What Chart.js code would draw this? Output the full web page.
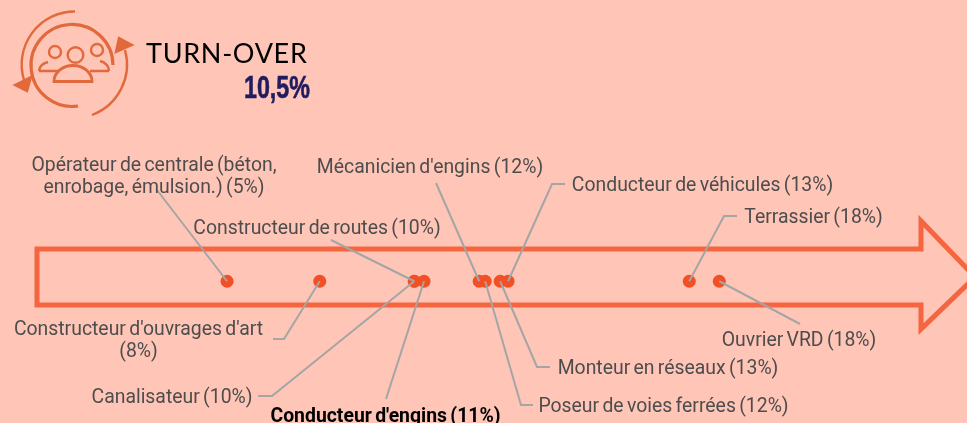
<!DOCTYPE html>
<html lang="fr">
<head>
<meta charset="utf-8">
<title>Turn-over</title>
<script src="https://cdn.jsdelivr.net/npm/chart.js@4/dist/chart.umd.min.js"></script>
<style>
    html, body { margin: 0; padding: 0; background: #ffc5b7; overflow: hidden; }
    #wrap { position: relative; width: 967px; height: 423px; }
    canvas { display: block; }
    #icon { position: absolute; left: 0; top: 0; }
    #heading { position: absolute; left: 146px; top: 35px; font: 400 27px Lato, sans-serif; color: #000; letter-spacing: .7px; line-height: 36px; }
    #rate { position: absolute; left: 244px; top: 69px; font: 700 31px "Liberation Sans Narrow", sans-serif; color: #201c60; line-height: 38px; -webkit-text-stroke: .6px #201c60; transform: scaleX(.75); transform-origin: left; }
</style>
</head>
<body>
<div id="wrap">
    <canvas id="turnoverChart" width="967" height="423"></canvas>
    <svg id="icon" width="140" height="125" fill="none" stroke="#e2693c" stroke-width="2.4">
        <path d="M75 11.5 A53 53 0 0 0 24 80"/>
        <path d="M15 85 L31 77 L27 91 Z" fill="#e2693c"/>
        <path d="M113 65 A41 41 0 1 0 78 106" stroke-width="3.2"/>
        <path d="M92 115 A54 54 0 0 0 125 50"/>
        <path d="M132 45 L119 38 L116 52 Z" fill="#e2693c"/>
        <circle cx="75.5" cy="55" r="7.8"/>
        <circle cx="55" cy="52" r="6"/>
        <circle cx="97" cy="50" r="6"/>
        <path d="M54 81.5 H92 A19 16 0 0 0 54 81.5 Z" stroke-width="2.8"/>
        <path d="M39 71 H60 M48 62 A13 10 0 0 0 39 71"/>
        <path d="M109 71 H90 M100 61 A13 10 0 0 1 109 71"/>
    </svg>
    <div id="heading">TURN-OVER</div>
    <div id="rate">10,5%</div>
</div>
<script>
// Chart data
const jobs = [
    'Opérateur de centrale', 'Constructeur d\'ouvrages d\'art', 'Constructeur de routes',
    'Canalisateur', 'Conducteur d\'engins', 'Mécanicien d\'engins', 'Poseur de voies ferrées',
    'Monteur en réseaux', 'Conducteur de véhicules', 'Terrassier', 'Ouvrier VRD'
];
const turnover = [5.3, 7.77, 10.29, 10.29, 10.55, 12.02, 12.18, 12.58, 12.79, 17.62, 18.42];
const labelLines = [
    ['Opérateur de centrale (béton,', 'enrobage, émulsion.) (5%)'],
    ['Constructeur d\'ouvrages d\'art', '(8%)'],
    ['Constructeur de routes (10%)'],
    ['Canalisateur (10%)'],
    ['Conducteur d\'engins (11%)'],
    ['Mécanicien d\'engins (12%)'],
    ['Poseur de voies ferrées (12%)'],
    ['Monteur en réseaux (13%)'],
    ['Conducteur de véhicules (13%)'],
    ['Terrassier (18%)'],
    ['Ouvrier VRD (18%)']
];

// Where each callout sits: label anchor and the leader's way back to the point
const callouts = [
    { x: 154, y: 166, leader: [[157, 190]] },
    { x: 138.5, y: 330, leader: [[273, 339], [284, 339]] },
    { x: 317, y: 229, leader: [[331, 240]] },
    { x: 172, y: 398, leader: [[258, 396], [272, 396]] },
    { x: 385.5, y: 417, bold: true, leader: [[386, 399]] },
    { x: 430, y: 168, leader: [[436, 183]] },
    { x: 663.5, y: 407, leader: [[533, 405], [521, 405]] },
    { x: 668, y: 369, leader: [[550, 367], [537, 367]] },
    { x: 702.5, y: 186, leader: [[565, 184], [552, 184]] },
    { x: 813.5, y: 218, leader: [[737, 216], [724, 216]] },
    { x: 799, y: 341, leader: [[800, 324]] }
];

const arrowColor = '#f5653f';
const arrowOutline = [[37, 249], [921, 249], [921, 221], [975, 277], [921, 329], [921, 305], [37, 305]];

// Big arrow behind the points
const arrowPlugin = {
    id: 'arrow',
    beforeDatasetsDraw(chart) {
        const ctx = chart.ctx;
        ctx.save();
        ctx.strokeStyle = arrowColor;
        ctx.lineWidth = 5;
        ctx.lineJoin = 'miter';
        ctx.beginPath();
        arrowOutline.forEach(([x, y], i) => i ? ctx.lineTo(x, y) : ctx.moveTo(x, y));
        ctx.closePath();
        ctx.stroke();
        ctx.restore();
    }
};

// Leader lines and labels for every point
const calloutPlugin = {
    id: 'callouts',
    afterDatasetsDraw(chart) {
        const ctx = chart.ctx;
        const points = chart.getDatasetMeta(0).data;
        ctx.save();
        callouts.forEach((item, i) => {
            ctx.strokeStyle = '#a5a5a5';
            ctx.lineWidth = 2;
            ctx.beginPath();
            item.leader.forEach(([x, y], j) => j ? ctx.lineTo(x, y) : ctx.moveTo(x, y));
            ctx.lineTo(points[i].x, points[i].y);
            ctx.stroke();

            ctx.font = (item.bold ? '700 ' : '400 ') + '19.4px Roboto, sans-serif';
            ctx.wordSpacing = '-1.5px';
            ctx.fillStyle = item.bold ? '#000' : '#4d4d4d';
            ctx.textAlign = 'center';
            ctx.textBaseline = 'middle';
            labelLines[i].forEach((line, j) => ctx.fillText(line, item.x, item.y + j * 22));
        });
        ctx.restore();
    }
};

new Chart(document.getElementById('turnoverChart').getContext('2d'), {
    type: 'scatter',
    data: {
        labels: jobs,
        datasets: [{
            label: 'Turn-over (%)',
            data: turnover.map(value => ({ x: value, y: 0 })),
            backgroundColor: '#f25024',
            borderWidth: 0,
            pointRadius: 6.5
        }]
    },
    options: {
        responsive: false,
        animation: false,
        layout: { padding: { left: 28.25, right: 0, top: 146, bottom: 0 } },
        plugins: { legend: { display: false }, tooltip: { enabled: false } },
        scales: {
            x: { type: 'linear', min: 0, max: 24.85, display: false },
            y: { type: 'linear', min: -1, max: 1, display: false }
        }
    },
    plugins: [arrowPlugin, calloutPlugin]
});
</script>
</body>
</html>
